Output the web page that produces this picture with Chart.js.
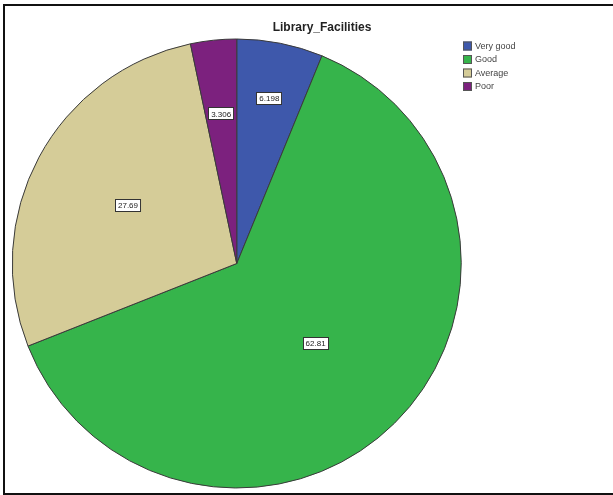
<!DOCTYPE html>
<html>
<head>
<meta charset="utf-8">
<script src="https://cdn.jsdelivr.net/npm/chart.js@4/dist/chart.umd.min.js"></script>
<style>
  body { margin: 0; background: #fff; }
  #wrap { position: relative; width: 613px; height: 495px; }
  #frame {
    position: absolute; left: 3px; top: 4px; width: 612px; height: 487px;
    border-left: 2px solid #111; border-top: 2px solid #111; border-bottom: 2px solid #111;
  }
  #chart { position: absolute; left: 0; top: 0; }
</style>
</head>
<body>
<div id="wrap">
  <div id="frame"></div>
  <canvas id="chart" width="613" height="495"></canvas>
</div>
<script>
// data
const categories = ['Very good', 'Good', 'Average', 'Poor']
const percents = [6.198, 62.81, 27.69, 3.306]
const labelTexts = ['6.198', '62.81', '27.69', '3.306']
const sliceColors = ['#3e58ab', '#36b44b', '#d5cc98', '#7c217e']
const chartTitle = 'Library_Facilities'

// how far out each value box sits (fraction of radius)
const labelRadius = [0.75, 0.5, 0.55, 0.67]

const overlay = {
    id: 'overlay',
    afterDraw(chart) {
        const ctx = chart.ctx
        ctx.save()

        // title
        ctx.fillStyle = '#222'
        ctx.font = 'bold 12px "Liberation Sans", Arial, sans-serif'
        ctx.textAlign = 'center'
        ctx.textBaseline = 'middle'
        ctx.fillText(chartTitle, 322, 28)

        // legend
        ctx.font = '9px "Liberation Sans", Arial, sans-serif'
        ctx.textAlign = 'left'
        categories.forEach((c, i) => {
            const y = 46 + i * 13.5
            ctx.fillStyle = sliceColors[i]
            ctx.fillRect(463, y - 4.5, 9, 9)
            ctx.strokeStyle = '#555'
            ctx.lineWidth = 1
            ctx.strokeRect(463.5, y - 4, 8, 8)
            ctx.fillStyle = '#444'
            ctx.fillText(c, 475, y + 0.5)
        })

        // value boxes
        const arcs = chart.getDatasetMeta(0).data
        ctx.font = '8px "Liberation Sans", Arial, sans-serif'
        ctx.textAlign = 'center'
        arcs.forEach((arc, i) => {
            const p = arc.getProps(['x', 'y', 'startAngle', 'endAngle', 'outerRadius'], true)
            const mid = (p.startAngle + p.endAngle) / 2
            const r = p.outerRadius * labelRadius[i]
            const x = p.x + Math.cos(mid) * r
            const y = p.y + Math.sin(mid) * r
            const w = ctx.measureText(labelTexts[i]).width + 6
            const h = 13
            ctx.fillStyle = '#fff'
            ctx.fillRect(Math.round(x - w / 2), Math.round(y - h / 2), w, h)
            ctx.strokeStyle = '#333'
            ctx.strokeRect(Math.round(x - w / 2) + 0.5, Math.round(y - h / 2) + 0.5, w - 1, h - 1)
            ctx.fillStyle = '#222'
            ctx.fillText(labelTexts[i], x, y + 0.5)
        })
        ctx.restore()
    }
}

new Chart(document.getElementById('chart'), {
    type: 'pie',
    data: {
        labels: categories,
        datasets: [{
            data: percents,
            backgroundColor: sliceColors,
            borderColor: '#3a3a3a',
            borderWidth: 1
        }]
    },
    options: {
        responsive: false,
        animation: false,
        layout: { padding: { left: 11.5, top: 38.5, right: 151, bottom: 6.5 } },
        plugins: {
            legend: { display: false },
            title: { display: false },
            tooltip: { enabled: false }
        }
    },
    plugins: [overlay]
})
</script>
</body>
</html>
